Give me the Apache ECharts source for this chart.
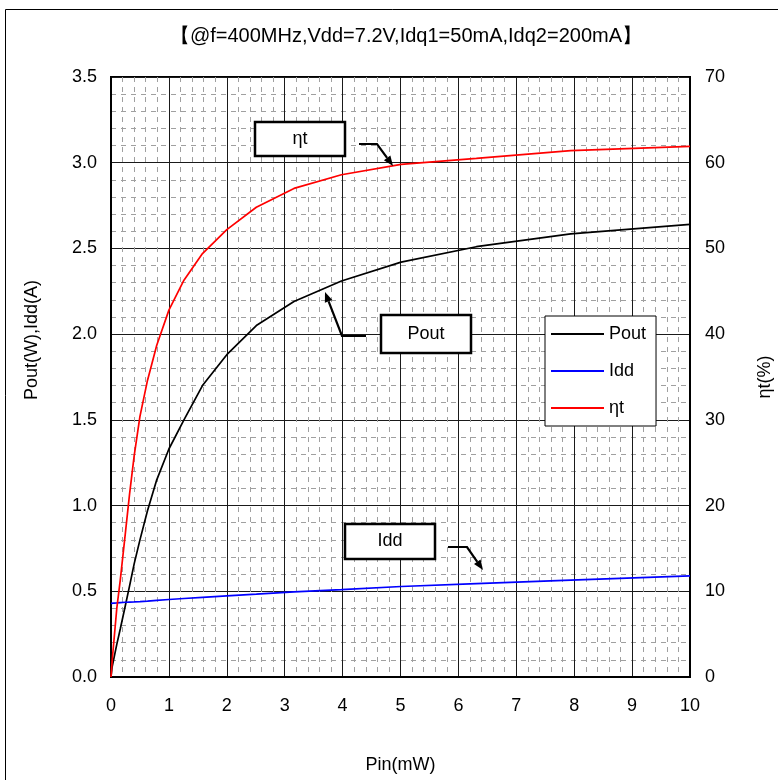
<!DOCTYPE html>
<html>
<head>
<meta charset="utf-8">
<script src="https://cdn.jsdelivr.net/npm/echarts@6/dist/echarts.min.js"></script>
<style>
html,body{margin:0;padding:0;background:#fff;}
#c{width:778px;height:780px;}
</style>
</head>
<body>
<div id="c"></div>
<script>
// ---- data ----
var titleText = '【@f=400MHz,Vdd=7.2V,Idq1=50mA,Idq2=200mA】';
var pin  = [0, 0.02, 0.1, 0.16, 0.25, 0.32, 0.4, 0.5, 0.63, 0.79, 1.0, 1.26, 1.58, 2.0, 2.51, 3.16, 3.98, 5.01, 6.31, 7.94, 10.0];
var pout = [0, 0.06, 0.19, 0.28, 0.42, 0.53, 0.66, 0.80, 0.97, 1.15, 1.33, 1.50, 1.70, 1.88, 2.05, 2.19, 2.31, 2.42, 2.51, 2.585, 2.64];
var idd  = [0.43, 0.43, 0.432, 0.434, 0.436, 0.437, 0.438, 0.44, 0.443, 0.447, 0.452, 0.458, 0.465, 0.473, 0.483, 0.497, 0.51, 0.528, 0.545, 0.565, 0.59];
var eta  = [0, 1.9, 8.0, 11.3, 16.9, 21.3, 25.8, 30.4, 34.6, 38.7, 42.8, 46.3, 49.4, 52.2, 54.8, 57.0, 58.6, 59.8, 60.5, 61.4, 61.9];
var seriesNames = ['Pout', 'Idd', 'ηt'];
var leftAxisName = 'Pout(W),Idd(A)';
var xTicks = {min: 0, max: 10, interval: 1};
var yLeftTicks = {min: 0, max: 3.5, interval: 0.5};
var yRightTicks = {min: 0, max: 70, interval: 10};

function pairs(xs, ys){ return xs.map(function(x,i){ return [x, ys[i]]; }); }

var FONT = 'Liberation Sans, Arial, sans-serif';
var chart = echarts.init(document.getElementById('c'), null, {renderer:'canvas'});

var minorStyle = {color:'#a0a0a0', width:1, type:[5,5]};

function arrow(points, tip, prev){
  var dx = tip[0]-prev[0], dy = tip[1]-prev[1];
  var L = Math.sqrt(dx*dx+dy*dy); dx/=L; dy/=L;
  var len = 10, w = 4;
  var bx = tip[0]-dx*len, by = tip[1]-dy*len;
  return [
    {type:'polyline', z:100, shape:{points:points.concat([[bx,by]])}, style:{stroke:'#000', lineWidth:2.2, fill:null}},
    {type:'polygon', z:100, shape:{points:[tip,[bx-dy*w,by+dx*w],[bx+dy*w,by-dx*w]]}, style:{fill:'#000'}}
  ];
}
function box(x,y,w,h,text){
  return {type:'rect', z:100, shape:{x:x,y:y,width:w,height:h},
    style:{fill:'#fff', stroke:'#000', lineWidth:2.5},
    textContent:{z:101, style:{text:text, fill:'#000', font:'18px '+FONT}},
    textConfig:{position:'inside'}};
}

var graphics = [
  {type:'rect', z:-1, shape:{x:5.5,y:9.5,width:900,height:900}, style:{fill:null, stroke:'#000', lineWidth:1}},
  {type:'text', x:32, y:340, rotation:Math.PI/2,
    style:{text:leftAxisName, fill:'#000', font:'18px '+FONT, align:'center', verticalAlign:'middle'}},
  box(255,122,90,34,'ηt'),
  box(381,315,90,38,'Pout'),
  box(345,524,90,35,'Idd')
];
graphics = graphics.concat(arrow([[359,144],[377,144]], [393,166], [377,144]));
graphics = graphics.concat(arrow([[366,336],[342,336]], [325,292], [342,336]));
graphics = graphics.concat(arrow([[448,547],[467,547]], [483,570], [467,547]));

var option = {
  animation:false,
  backgroundColor:'#fff',
  textStyle:{fontFamily:FONT},
  title:{text:titleText, left:401, top:21, textAlign:'center',
    textStyle:{fontSize:20, fontWeight:'normal', color:'#000', fontFamily:FONT}},
  grid:{left:111, right:88, top:77, bottom:103, outerBoundsMode:'none', containLabel:false,
    show:true, borderColor:'#000', borderWidth:2, backgroundColor:'#fff'},
  legend:{
    data:seriesNames, orient:'vertical', left:545, top:316,
    backgroundColor:'#fff', borderColor:'#000', borderWidth:1, borderRadius:0,
    padding:[8,10,8,6], itemGap:17, itemWidth:53, itemHeight:2, icon:'rect',
    textStyle:{fontSize:18, color:'#000', fontFamily:FONT, lineHeight:20, padding:[0,0,0,0]}
  },
  xAxis:{
    type:'value', min:xTicks.min, max:xTicks.max, interval:xTicks.interval,
    name:'Pin(mW)', nameLocation:'middle', nameGap:79,
    nameTextStyle:{fontSize:18, color:'#000', fontFamily:FONT},
    axisLine:{show:true, lineStyle:{color:'#000', width:2}},
    axisTick:{show:false},
    axisLabel:{fontSize:18, color:'#000', margin:20, fontFamily:FONT},
    splitLine:{show:true, lineStyle:{color:'#1a1a1a', width:1}},
    minorTick:{show:false, splitNumber:5},
    minorSplitLine:{show:true, lineStyle:minorStyle}
  },
  yAxis:[{
    type:'value', position:'left', min:yLeftTicks.min, max:yLeftTicks.max, interval:yLeftTicks.interval,
    axisLine:{show:true, lineStyle:{color:'#000', width:2}},
    axisTick:{show:false},
    axisLabel:{fontSize:18, color:'#000', margin:14, fontFamily:FONT, formatter:function(v){return v.toFixed(1);}},
    splitLine:{show:true, lineStyle:{color:'#1a1a1a', width:1}},
    minorTick:{show:false, splitNumber:5},
    minorSplitLine:{show:true, lineStyle:minorStyle}
  },{
    type:'value', position:'right', min:yRightTicks.min, max:yRightTicks.max, interval:yRightTicks.interval,
    name:'ηt(%)', nameLocation:'middle', nameGap:66, nameRotate:90,
    nameTextStyle:{fontSize:18, color:'#000', fontFamily:FONT},
    axisLine:{show:true, lineStyle:{color:'#000', width:2}},
    axisTick:{show:false},
    axisLabel:{fontSize:18, color:'#000', margin:15, fontFamily:FONT},
    splitLine:{show:false}
  }],
  series:[
    {name:seriesNames[0], type:'line', yAxisIndex:0, data:pairs(pin,pout), symbol:'none', color:'#000', lineStyle:{width:1.7, color:'#000'}, z:3},
    {name:seriesNames[1], type:'line', yAxisIndex:0, data:pairs(pin,idd), symbol:'none', color:'#0000ff', lineStyle:{width:1.7, color:'#0000ff'}, z:3},
    {name:seriesNames[2], type:'line', yAxisIndex:1, data:pairs(pin,eta), symbol:'none', color:'#ff0000', lineStyle:{width:1.7, color:'#ff0000'}, z:4}
  ],
  graphic:graphics
};
chart.setOption(option);
</script>
</body>
</html>
